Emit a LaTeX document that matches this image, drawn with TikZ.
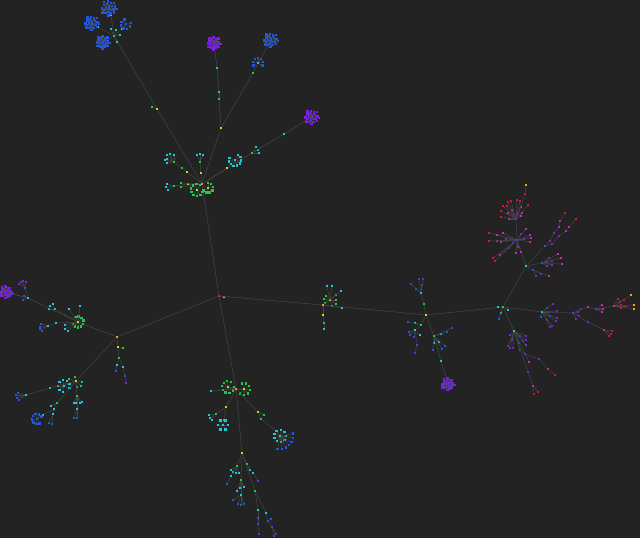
\documentclass[tikz,border=0pt]{standalone}
\usepackage{tikz}
\usetikzlibrary{positioning}

\definecolor{bgc}{HTML}{232323}
\definecolor{edgec}{HTML}{454545}
\definecolor{rd}{HTML}{E52222}
\definecolor{og}{HTML}{F0A010}
\definecolor{yg}{HTML}{B8E020}
\definecolor{gn}{HTML}{22C84A}
\definecolor{cy}{HTML}{22C8D2}
\definecolor{bl}{HTML}{2255E0}
\definecolor{pu}{HTML}{7A22D8}
\definecolor{mg}{HTML}{D022B8}
\definecolor{rr}{HTML}{DD1133}

\tikzset{
  edge/.style={draw=edgec, line width=0.5pt},
  dot/.style={rectangle, fill=#1, inner sep=0pt, minimum size=2.5pt},
}

\newcommand{\hub}[5]{\node[dot=#5] (#2) at (#3,#4) {}; \draw[edge] (#1) -- (#2);}
\newcommand{\leaves}[2]{\foreach \x/\y/\col in {#2}{\draw[edge] (#1) -- (\x,\y) node[dot=\col] {};}}
\newcommand{\fan}[6]{\foreach \k in {1,...,#4}{\draw[edge] (#1) -- ++({#5+(\k-1)*(#6-(#5))/(#4-1)}:{#3}) node[dot=#2] {};}}
\newcommand{\burst}[5]{\fan{#1}{#2}{#3}{#4}{#5}{#5+360-360/#4}}
% dense blob of leaves, sunflower spread
\newcommand{\ball}[3]{\foreach \k in {1,...,22}{%
  \draw[edge] (#1) -- ++({137.5*\k}:{#3*sqrt((\k-0.3)/22)}) node[dot=#2] {};}}

\begin{document}
\begin{tikzpicture}[x=1pt,y=-1pt]

  \useasboundingbox (0,0) rectangle (640,538);
  \clip (0,0) rectangle (640,538);
  \fill[bgc] (0,0) rectangle (640,538);

  \node[dot=rd] (root) at (219,296) {};
  \hub{root}{root2}{224}{297}{og}

  % top branch
  \hub{root}{top}{202}{184}{og}
  \hub{top}{tl}{157}{109}{yg}
  \leaves{tl}{152/107/gn}
  \hub{tl}{tlh}{114}{36}{gn}
  \leaves{tlh}{116/30/cy, 120/35/cy, 117/42/cy, 111/29/cy}
  \hub{tlh}{tc1}{111}{15}{cy} \hub{tc1}{tb1}{109}{8}{bl} \ball{tb1}{bl}{8}
  \hub{tlh}{tc2}{98}{27}{cy} \hub{tc2}{tb2}{92}{23}{bl} \ball{tb2}{bl}{7.5}
  \hub{tlh}{tc3}{122}{29}{cy} \hub{tc3}{tb3}{126}{24}{bl} \fan{tb3}{bl}{5}{7}{-10}{250}
  \hub{tlh}{tc4}{106}{41}{cy} \hub{tc4}{tb4}{103}{42}{bl} \ball{tb4}{bl}{7}

  \hub{top}{tc}{221}{128}{yg}
  \hub{tc}{tc5}{219}{99}{gn}
  \hub{tc5}{tc6}{219}{92}{cy}
  \hub{tc6}{tc7}{217}{68}{cy}
  \hub{tc7}{tp}{214}{43}{bl} \ball{tp}{pu}{7}
  \hub{tc}{te}{253}{73}{gn}
  \hub{te}{te2}{258}{63}{cy} \fan{te2}{bl}{5}{7}{150}{390}
  \hub{te2}{tf}{269}{44}{cy} \hub{tf}{tfb}{271}{40}{bl} \ball{tfb}{bl}{7.5}

  \hub{top}{tr1}{252}{153}{gn}
  \leaves{tr1}{256/147/cy, 259/153/cy, 258/150/cy}
  \hub{tr1}{td}{284}{134}{cy}
  \hub{td}{tdp}{312}{117}{bl} \ball{tdp}{pu}{7.5}

  \hub{top}{tn1}{227}{168}{yg} \hub{tn1}{tn1r}{235}{160}{cy} \fan{tn1r}{cy}{6}{9}{-60}{200}
  \hub{top}{tn2}{201}{173}{yg} \hub{tn2}{tn2a}{200}{162}{gn}
  \leaves{tn2a}{197/155/cy, 200/154/cy, 203/155/cy}
  \hub{top}{tn3}{187}{172}{yg} \hub{tn3}{tn3a}{182}{168}{gn} \hub{tn3a}{tn3b}{174}{162}{gn}
  \leaves{tn3b}{167/155/cy, 170/154/cy, 174/155/cy, 165/160/cy, 167/159/cy, 167/163/cy}
  \hub{top}{tn4}{188}{184}{yg} \hub{tn4}{tn4a}{174}{186}{gn}
  \leaves{tn4a}{167/184/cy, 166/187/cy, 168/190/cy}
  \leaves{top}{181/183/gn, 181/187/gn}
  \hub{top}{tn5}{197}{190}{yg} \fan{tn5}{gn}{6}{9}{20}{300}
  \hub{top}{tn6}{208}{188}{yg} \fan{tn6}{gn}{5}{7}{-90}{150}

  % right branch
  \hub{root}{r1}{323}{305}{og}
  \hub{r1}{r1a}{330}{300}{yg}
  \leaves{r1a}{326/296/gn, 336/295/gn, 336/300/gn, 324/299/gn, 325/303/gn, 332/306/gn, 336/304/gn, 327/286/cy, 332/286/cy}
  \leaves{r1}{341/291/cy, 342/308/cy}
  \hub{r1}{r1b}{323}{315}{yg} \hub{r1b}{r1c}{324}{323}{gn} \hub{r1c}{r1d}{324}{329}{cy}

  \hub{r1}{r2}{426}{315}{yg}
  \hub{r2}{r2a}{424}{304}{gn} \hub{r2a}{r2b}{421}{293}{cy}
  \leaves{r2b}{422/285/bl, 419/279/pu, 423/279/pu, 416/289/bl, 411/284/pu}
  \hub{r2}{r2c}{421}{325}{gn} \leaves{r2c}{415/323/cy, 408/322/bl}
  \hub{r2c}{r2d}{415}{330}{cy} \leaves{r2d}{409/332/bl, 410/335/bl, 414/337/bl, 420/335/cy}
  \hub{r2d}{r2e}{417}{345}{bl} \leaves{r2e}{415/353/pu}
  \hub{r2}{r2f}{434}{336}{gn}
  \leaves{r2f}{441/334/cy, 447/332/bl, 452/328/pu, 434/343/cy, 439/342/cy, 445/346/bl, 442/349/bl, 433/350/bl}
  \hub{r2f}{r2g}{441}{361}{cy} \hub{r2g}{r2h}{448}{384}{bl} \ball{r2h}{pu}{6.5}

  \hub{r2}{r3}{503}{307}{gn}
  \leaves{r3}{498/307/cy, 508/310/cy, 501/313/cy, 499/319/bl}
  \hub{r3}{r4}{526}{266}{cy}
  \hub{r4}{r5}{517}{240}{bl}
  \leaves{r5}{513/243/pu, 509/248/pu, 500/255/mg, 493/258/rr, 495/261/rr, 506/239/pu, 501/242/mg, 497/241/mg, 489/241/rr, 489/233/rr, 497/235/mg, 503/233/mg, 521/234/pu, 526/229/mg, 530/235/mg, 531/238/mg, 530/242/mg, 524/239/pu, 518/247/pu, 516/253/mg, 521/252/mg}
  \hub{r5}{r6}{516}{219}{pu}
  \leaves{r6}{509/219/mg, 517/214/mg, 522/213/mg, 521/216/mg, 512/210/mg, 508/213/mg, 501/217/rr, 501/211/rr, 503/206/rr, 507/206/rr, 508/202/rr, 511/201/rr, 517/200/rr, 520/201/rr, 528/205/rr, 521/207/mg}
  \hub{r6}{r6a}{525}{194}{rr} \hub{r6a}{r6b}{526}{185}{og}

  \hub{r4}{r4a}{545}{246}{bl} \hub{r4a}{r4b}{550}{241}{pu} \hub{r4b}{r4c}{554}{233}{pu}
  \hub{r4c}{r4d}{559}{227}{mg} \hub{r4d}{r4e}{560}{221}{mg} \hub{r4e}{r4f}{565}{213}{rr}
  \hub{r4a}{r4g}{552}{244}{pu} \hub{r4g}{r4h}{559}{236}{pu} \hub{r4h}{r4i}{566}{231}{mg}
  \hub{r4i}{r4j}{569}{227}{mg} \hub{r4j}{r4k}{576}{219}{rr}
  \hub{r4}{r4m}{542}{263}{bl}
  \leaves{r4m}{547/262/pu, 549/258/pu, 558/254/mg, 552/261/pu, 561/258/mg, 552/265/pu, 562/264/mg, 547/266/pu}
  \hub{r4}{r4n}{533}{270}{bl} \leaves{r4n}{536/276/pu, 541/274/pu, 549/276/mg}

  \hub{r3}{r7}{542}{312}{cy}
  \leaves{r7}{547/308/bl, 553/304/pu, 549/312/bl, 557/311/pu, 550/316/bl, 557/318/pu, 547/320/bl, 556/321/pu, 552/326/pu, 550/327/pu, 541/317/bl}
  \hub{r7}{r8}{573}{313}{bl} \leaves{r8}{578/312/pu, 581/309/pu, 579/316/pu, 576/319/pu}
  \hub{r8}{r8a}{588}{307}{mg} \hub{r8a}{r8b}{596}{309}{pu}
  \leaves{r8b}{602/305/mg, 603/309/mg, 602/312/mg}
  \hub{r8b}{r8c}{614}{306}{mg}
  \leaves{r8c}{618/299/rr, 620/302/rr, 624/300/rr, 621/305/rr, 621/308/rr, 626/306/rr, 631/295/og, 634/305/og, 634/309/og}
  \hub{r8}{r8d}{588}{322}{pu} \hub{r8d}{r8e}{604}{330}{mg}
  \leaves{r8e}{612/331/rr, 611/334/rr, 609/336/rr}

  \hub{r3}{r9}{514}{331}{cy}
  \leaves{r9}{510/335/bl, 520/336/bl, 526/336/pu, 526/340/pu, 523/341/pu, 512/340/bl, 519/343/bl, 526/345/bl, 508/346/pu, 510/348/pu, 513/348/pu, 529/362/mg}
  \hub{r9}{r9a}{520}{350}{bl} \hub{r9a}{r9b}{525}{354}{pu} \hub{r9b}{r9c}{539}{359}{pu}
  \hub{r9c}{r9d}{548}{369}{mg} \hub{r9d}{r9e}{555}{375}{rr}
  \hub{r9}{r9f}{528}{372}{pu} \hub{r9f}{r9g}{533}{386}{mg}
  \leaves{r9g}{538/392/rr, 534/394/rr}

  % left branch
  \hub{root}{l1}{117}{337}{og}
  \hub{l1}{l2}{78}{322}{yg} \fan{l2}{gn}{5.5}{9}{-120}{160}
  \leaves{l2}{69/309/cy, 80/306/cy, 65/325/cy, 65/329/cy, 68/331/cy}
  \hub{l2}{l2a}{55}{309}{gn} \leaves{l2a}{53/304/cy, 50/306/cy, 49/309/cy}
  \hub{l2}{l2b}{56}{323}{cy} \hub{l2b}{l2c}{48}{326}{cy}
  \leaves{l2c}{41/324/bl, 40/327/bl, 40/329/bl, 42/331/bl}
  \hub{l2}{l2d}{28}{298}{cy} \leaves{l2d}{24/296/bl, 23/300/bl, 12/294/bl}
  \hub{l2d}{l2e}{25}{288}{bl} \leaves{l2e}{21/282/pu, 23/281/pu, 26/282/pu, 19/284/pu}
  \hub{l2d}{l2f}{6}{292}{pu} \ball{l2f}{pu}{6.5}

  \hub{l1}{l3}{76}{381}{yg}
  \leaves{l3}{75/377/gn, 69/379/gn, 82/382/gn, 81/386/gn, 77/387/gn}
  \hub{l3}{l3r}{64}{386}{cy} \fan{l3r}{cy}{6}{8}{100}{380}
  \hub{l3}{l3a}{50}{388}{gn} \hub{l3a}{l3b}{26}{395}{cy}
  \leaves{l3b}{18/393/bl, 16/395/bl, 17/398/bl, 19/400/bl}
  \hub{l3}{l3c}{57}{403}{gn} \hub{l3c}{l3d}{54}{409}{cy} \leaves{l3c}{51/406/cy}
  \hub{l3d}{l3e}{43}{415}{cy} \hub{l3e}{l3f}{37}{419}{bl} \fan{l3f}{bl}{5}{8}{60}{330}
  \hub{l3d}{l3g}{53}{414}{cy} \leaves{l3g}{52/424/bl, 49/423/bl}
  \hub{l3}{l3h}{77}{396}{gn} \leaves{l3h}{76/403/cy, 80/403/cy, 82/402/cy, 74/403/cy}
  \hub{l3h}{l3i}{77}{409}{cy} \leaves{l3i}{74/418/bl, 77/418/bl}

  \hub{l1}{l4}{118}{347}{yg} \leaves{l4}{123/348/gn}
  \hub{l4}{l4a}{119}{358}{gn} \hub{l4a}{l4b}{117}{365}{cy} \leaves{l4b}{116/371/bl}
  \hub{l4a}{l4c}{123}{367}{cy} \hub{l4c}{l4d}{125}{376}{bl} \hub{l4d}{l4e}{126}{383}{pu}

  % bottom branch
  \hub{root}{bt}{236}{389}{og}
  \hub{bt}{bta}{228}{387}{yg} \fan{bta}{gn}{6}{9}{0}{300}
  \leaves{bt}{211/391/cy}
  \hub{bt}{btb}{244}{389}{yg} \fan{btb}{gn}{6}{7}{-110}{130}
  \hub{bt}{btc}{226}{407}{yg} \hub{btc}{btd}{216}{414}{gn}
  \leaves{btd}{209/415/cy, 210/418/cy, 212/420/cy}
  \hub{btc}{bte}{224}{420}{gn} \hub{bte}{btf}{223}{425}{cy} \burst{btf}{cy}{5}{6}{0}
  \hub{bt}{btg}{258}{412}{yg} \leaves{btg}{264/415/gn}
  \hub{btg}{bth}{261}{419}{gn} \hub{bth}{bti}{276}{431}{gn}
  \hub{bti}{btj}{280}{436}{cy} \burst{btj}{cy}{6}{9}{0} \fan{btj}{bl}{13}{7}{-10}{100}

  \hub{bt}{btk}{242}{453}{yg}
  \hub{btk}{btl}{237}{466}{gn} \leaves{btl}{231/470/cy, 233/472/cy, 236/473/cy, 239/473/cy}
  \hub{btl}{btm}{231}{476}{cy} \leaves{btm}{227/484/bl}
  \hub{btk}{btn}{247}{464}{gn} \leaves{btn}{250/470/cy}
  \hub{btn}{bto}{253}{473}{cy} \leaves{bto}{258/481/bl}
  \hub{btk}{btp}{241}{480}{gn} \leaves{btp}{240/488/cy, 244/487/cy, 237/491/cy}
  \hub{btp}{btq}{241}{495}{cy} \leaves{btq}{233/500/bl, 238/504/bl, 241/505/bl, 244/504/bl}
  \hub{btk}{btr}{255}{491}{gn} \hub{btr}{bts}{258}{510}{cy} \hub{bts}{btt}{258}{518}{bl}
  \hub{btt}{btu}{258}{524}{bl} \hub{btu}{btv}{259}{534}{pu}
  \hub{btr}{btw}{266}{513}{cy} \hub{btw}{btx}{268}{521}{bl} \leaves{btx}{271/519/bl}
  \hub{btx}{bty}{272}{527}{bl} \leaves{bty}{276/534/pu, 274/536/pu}

\end{tikzpicture}
\end{document}
